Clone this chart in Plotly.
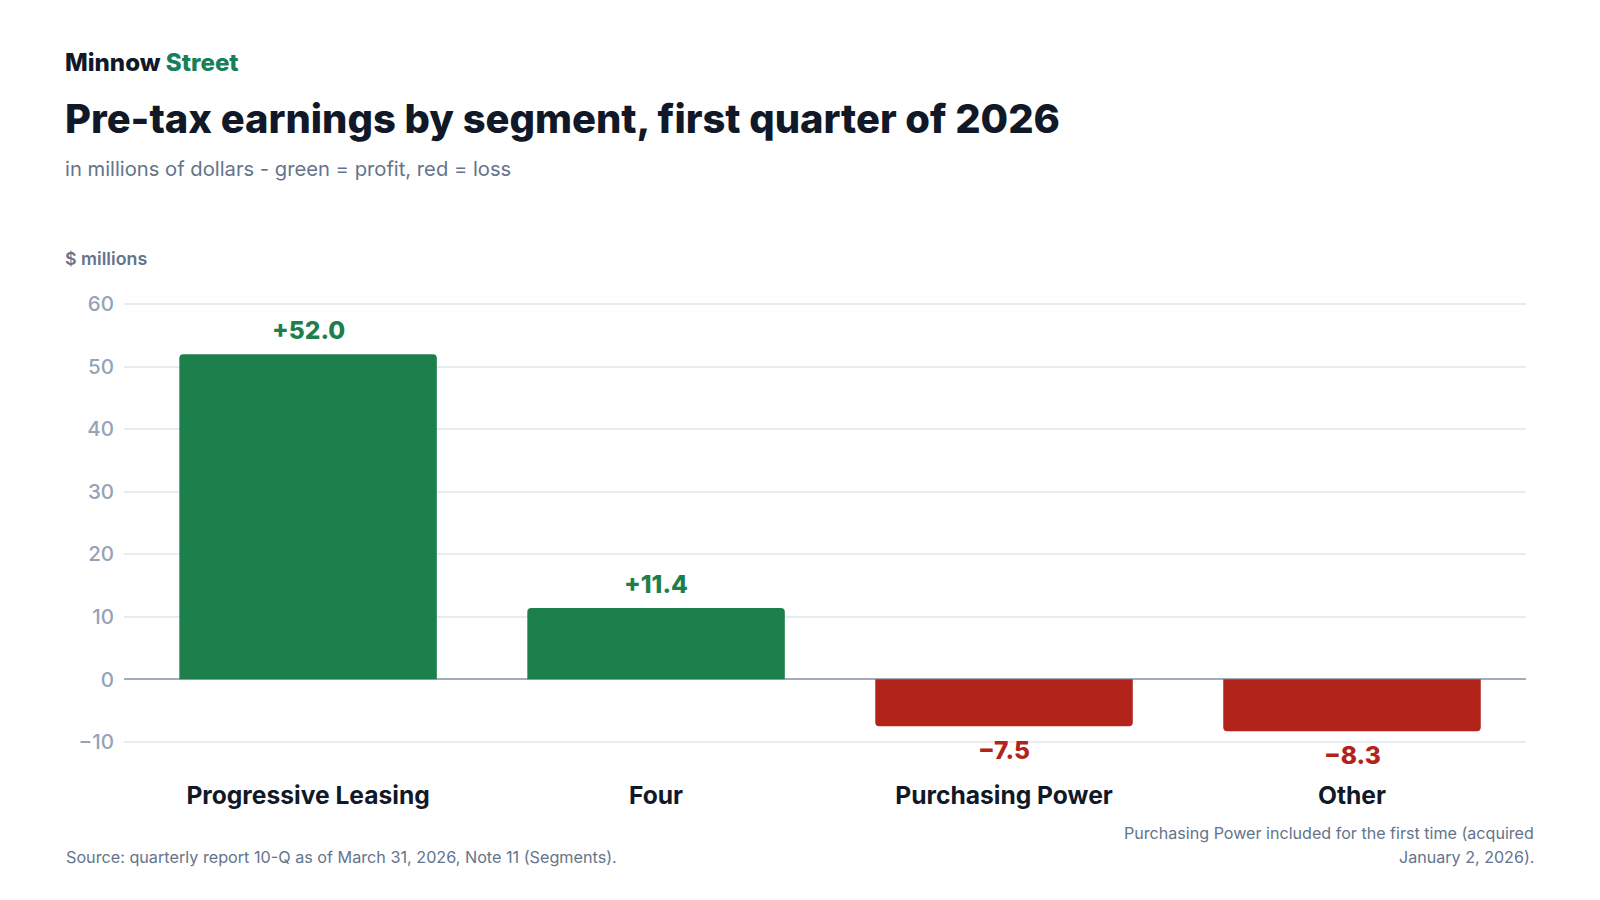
import plotly.graph_objects as go

# segment results, Q1 2026 ($ millions)
SEGMENTS = ["Progressive Leasing", "Four", "Purchasing Power", "Other"]
EARNINGS = [52.0, 11.4, -7.5, -8.3]
Y_TICKS = [-10, 0, 10, 20, 30, 40, 50, 60]
Y_TICK_LABELS = ["\u221210", "0", "10", "20", "30", "40", "50", "60"]
NOTE_LINES = [
    "Purchasing Power included for the first time (acquired",
    "January 2, 2026).",
]

GREEN = "#1d804c"
RED = "#b2231a"
INK = "#111827"
GREY = "#64748b"
LIGHT = "#94a3b8"
FONT = "Inter"

# the page body has an 8px margin, so the figure is drawn 8px in
OFF = 8
W, H = 1600 - 2 * OFF, 900 - 2 * OFF
ML, MR, MT, MB = 116, 66, 292.9, 147.2
PW = W - ML - MR
PH = H - MT - MB


def px_x(x):
    """page pixel x -> paper x"""
    return (x - OFF - ML) / PW


def px_y(y):
    """page pixel y -> paper y"""
    return (H - MB - (y - OFF)) / PH


def fmt(v):
    return ("+" if v >= 0 else "\u2212") + f"{abs(v):.1f}"


def main():
    colors = [GREEN if v >= 0 else RED for v in EARNINGS]

    fig = go.Figure(
        go.Bar(
            x=SEGMENTS,
            y=EARNINGS,
            marker=dict(color=colors, line=dict(width=0), cornerradius=4),
            hoverinfo="x+y",
            cliponaxis=False,
        )
    )

    # value labels above / below bars
    for seg, v, c in zip(SEGMENTS, EARNINGS, colors):
        fig.add_annotation(
            x=seg,
            y=v,
            text=fmt(v),
            showarrow=False,
            yanchor="middle",
            yshift=24 if v >= 0 else -24,
            font=dict(family=FONT, size=24.5, color=c, weight=800),
        )

    header = [
        (63, 62, "Minnow <span style='color:#15805a'>Street</span>", 24.1, INK, 800),
        (63, 118, "Pre-tax earnings by segment, first quarter of 2026", 39.9, INK, 800),
        (63, 168, "in millions of dollars - green = profit, red = loss", 20.2, GREY, 400),
        (63, 258, "$ millions", 17.8, GREY, 600),
        (64, 857, "Source: quarterly report 10-Q as of March 31, 2026, Note 11 (Segments).", 16.2, GREY, 400),
    ]
    for x, y, text, size, color, weight in header:
        fig.add_annotation(
            xref="paper", yref="paper", x=px_x(x), y=px_y(y),
            text=text, showarrow=False, xanchor="left", yanchor="middle",
            font=dict(family=FONT, size=size, color=color, weight=weight),
        )

    # right-hand note, one annotation per line to get the wider leading
    for i, line in enumerate(NOTE_LINES):
        fig.add_annotation(
            xref="paper", yref="paper", x=px_x(1536), y=px_y(833 + 24 * i),
            text=line, showarrow=False, xanchor="right", yanchor="middle",
            font=dict(family=FONT, size=16.1, color=GREY),
        )

    fig.update_layout(
        width=W,
        height=H,
        margin=dict(l=ML, r=MR, t=MT, b=MB),
        paper_bgcolor="white",
        plot_bgcolor="white",
        bargap=0.26,
        showlegend=False,
        font=dict(family=FONT),
        xaxis=dict(
            range=[-0.529, 3.5],
            showgrid=False,
            showline=False,
            ticks="",
            tickfont=dict(family=FONT, size=24.6, color=INK, weight=700),
            ticklabelstandoff=33,
            fixedrange=True,
        ),
        yaxis=dict(
            range=[-10.5, 60.5],
            tickvals=Y_TICKS,
            ticktext=Y_TICK_LABELS,
            tickfont=dict(family=FONT, size=20.5, color=LIGHT, weight=500),
            gridcolor="#e8ecf1",
            gridwidth=1.5,
            zeroline=True,
            zerolinecolor="#a3acbd",
            zerolinewidth=2,
            showline=False,
            ticks="",
            ticklabelstandoff=9,
            fixedrange=True,
        ),
    )

    fig.write_html("out.html")


if __name__ == "__main__":
    main()
